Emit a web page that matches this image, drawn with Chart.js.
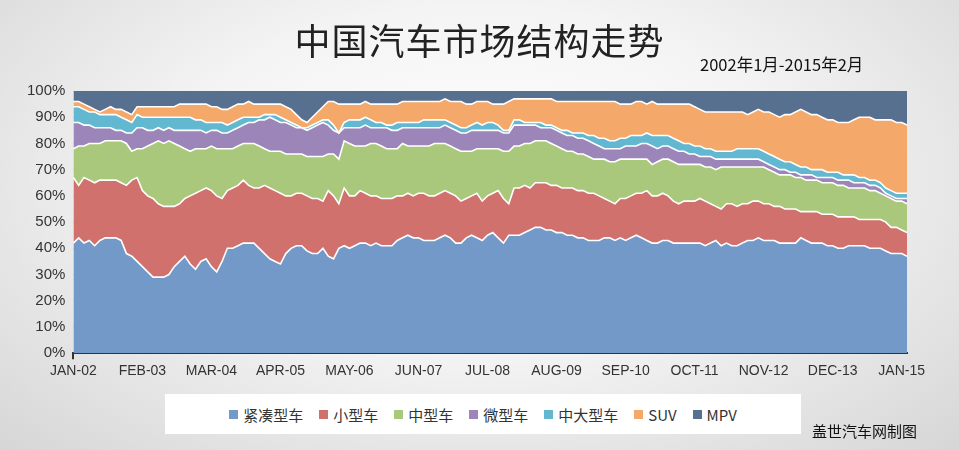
<!DOCTYPE html>
<html><head><meta charset="utf-8">
<script src="https://cdn.jsdelivr.net/npm/chart.js@4.4.1/dist/chart.umd.min.js"></script>
<style>
html,body{margin:0;padding:0;}
body{width:959px;height:450px;overflow:hidden;position:relative;font-family:"Noto Sans CJK SC","Noto Sans",sans-serif;
background:radial-gradient(ellipse at 50% 40%,#ffffff 0%,#f4f4f4 45%,#d6d6d6 100%);}
#wrap{position:absolute;left:0;top:0;width:959px;height:450px;}
#title{position:absolute;left:0;width:959px;top:14px;text-align:center;font-size:36px;line-height:50px;color:#222;letter-spacing:1px;}
#sub{position:absolute;left:700px;top:52px;font-size:16.5px;color:#111;}
#legend{position:absolute;left:165px;top:394px;width:636px;height:40px;background:#fff;display:flex;align-items:center;justify-content:center;gap:16px;font-size:15px;color:#333;}
#legend span.i{display:inline-flex;align-items:center;gap:5px;}
#legend b{display:inline-block;width:9px;height:9px;}
#credit{position:absolute;left:812px;top:420px;font-size:15px;color:#111;}
</style></head><body>
<div id="wrap"><canvas id="c" width="959" height="450"></canvas></div>
<div id="title">中国汽车市场结构走势</div>
<div id="sub">2002年1月-2015年2月</div>
<div id="legend"></div>
<div id="credit">盖世汽车网制图</div>
<script>
// Cumulative tops of each stacked band (percent), monthly Jan-2002 .. Feb-2015
const compactTop=[42,44,42,43,41,43,44,44,44,43,38,37,35,
33,31,29,29,29,30,33,35,37,34,32,35,36,
33,31,35,40,40,41,42,42,42,40,38,36,35,
34,38,40,41,41,39,38,38,40,37,36,40,41,
40,41,42,42,41,42,41,41,41,43,44,45,44,
44,43,43,43,44,45,44,42,42,44,45,44,43,
45,46,44,42,45,45,45,46,47,48,48,47,47,
46,46,45,45,44,44,43,43,43,44,44,43,44,
43,44,45,44,43,42,42,43,43,42,42,42,42,
42,42,41,42,43,41,42,41,41,42,43,43,44,
43,43,43,42,42,42,42,44,43,42,42,42,41,
41,40,40,41,41,41,41,40,40,40,39,38,38,
38,37];
const smallTop=[67,64,67,66,65,66,66,66,66,65,64,66,67,
62,60,59,57,56,56,56,57,59,60,61,62,63,
62,60,59,62,63,64,66,64,63,63,64,63,62,
61,60,60,61,61,60,59,59,58,62,60,57,63,
60,60,62,61,60,60,59,59,59,60,60,61,60,
61,61,60,60,61,62,61,60,58,59,60,61,58,
60,61,62,59,57,63,63,64,63,65,65,65,64,
64,63,63,63,62,62,61,61,60,59,58,57,59,
59,60,61,61,62,60,60,61,60,58,57,58,58,
58,59,58,57,56,55,57,57,56,57,57,58,58,
57,57,56,56,55,55,55,54,54,54,54,53,53,
53,52,52,52,52,51,51,51,51,51,50,48,48,
47,46];
const midTop=[78,79,79,80,80,80,81,81,81,81,80,77,78,
78,79,80,81,80,81,80,79,78,77,78,78,78,
79,78,78,78,78,79,80,80,80,79,78,77,77,
77,76,76,76,76,75,75,75,75,76,76,74,81,
80,79,79,79,80,80,79,78,78,78,80,79,79,
79,79,79,80,80,80,79,78,77,77,77,78,78,
78,78,78,77,77,79,79,80,80,81,81,81,80,
79,78,77,77,76,76,75,74,74,74,73,73,74,
74,74,74,74,74,72,73,74,74,73,72,72,72,
72,72,71,71,70,71,71,71,71,71,71,71,71,
71,70,69,68,68,68,67,67,66,66,66,65,65,
65,64,64,63,63,63,63,62,62,61,60,59,58,
58,57];
const microTop=[88,88,87,87,86,86,86,86,85,85,84,84,86,
86,85,85,86,85,86,85,85,85,85,85,85,84,
85,85,84,84,85,86,87,88,88,89,89,90,89,
88,88,87,86,86,85,86,87,88,87,85,84,86,
86,86,86,87,86,86,86,86,85,85,86,86,86,
86,86,86,86,86,87,86,85,84,84,85,85,85,
85,85,85,84,84,87,87,87,87,87,86,86,86,
85,84,83,83,82,82,81,80,79,78,78,78,78,
79,79,79,80,80,79,78,79,79,78,77,77,76,
76,75,75,75,74,74,74,74,74,74,74,74,74,
73,72,71,70,70,69,69,68,68,68,67,67,67,
67,66,66,66,65,65,65,64,64,63,61,60,59,
59,59];
const largeTop=[94,94,93,92,92,91,91,91,91,90,89,88,91,
90,90,90,90,90,90,90,90,90,90,89,89,88,
88,88,88,87,88,89,90,90,90,90,91,91,91,
90,89,88,87,86,86,87,88,89,89,87,84,88,
89,89,89,90,89,88,88,87,87,88,88,88,88,
88,89,89,89,89,89,88,87,86,86,87,88,87,
88,88,87,85,85,89,89,88,88,88,88,87,87,
86,85,85,84,84,84,83,83,82,82,81,81,82,
82,83,83,83,84,83,83,83,83,82,81,80,80,
79,79,78,78,77,77,77,77,78,78,78,78,78,
77,76,75,74,73,73,72,71,71,70,70,70,69,
69,69,68,68,68,67,67,66,66,65,63,62,61,
61,61];
const suvTop=[96,96,95,94,93,92,93,94,93,93,92,91,94,
94,94,94,94,94,94,94,95,95,95,95,95,95,
94,94,93,93,94,95,95,96,95,95,95,95,95,
95,94,93,91,89,88,90,92,94,96,96,95,95,
95,95,95,96,95,95,95,95,95,95,96,96,96,
96,96,96,96,96,97,96,96,96,95,95,96,96,
96,95,95,95,96,97,97,97,97,97,97,97,97,
96,96,96,96,96,96,96,96,96,96,96,96,95,
95,95,96,96,95,96,95,95,95,95,95,95,95,
94,93,92,92,92,92,92,92,92,92,91,92,93,
92,92,91,90,91,91,92,93,92,91,91,90,89,
89,88,88,88,89,90,90,90,89,89,89,89,88,
88,87];
const mpvTop=compactTop.map(()=>100); // stack total
const seriesNames=['紧凑型车','小型车','中型车','微型车','中大型车','SUV','MPV'];
const colors=['#7399c8','#d1716e','#aac87c','#9c86b9','#62b8d0','#f4a86a','#58708f'];
const monthNames=['JAN','FEB','MAR','APR','MAY','JUN','JUL','AUG','SEP','OCT','NOV','DEC'];
const labels=[];
for(let i=0;i<compactTop.length;i++){const y=2002+Math.floor(i/12);labels.push(monthNames[i%12]+'-'+String(y).slice(2));}
const tops=[compactTop,smallTop,midTop,microTop,largeTop,suvTop,mpvTop];
const datasets=tops.map((d,i)=>({label:seriesNames[i],data:d,backgroundColor:colors[i],borderColor:i===6?'rgba(0,0,0,0)':'#ffffff',
 borderWidth:i===6?0:1.6,fill:i===0?'origin':'-1',pointRadius:0,tension:0,order:7-i}));
const lg=document.getElementById('legend');
seriesNames.forEach((n,i)=>{const s=document.createElement('span');s.className='i';s.innerHTML='<b style="background:'+colors[i]+'"></b>'+n;lg.appendChild(s);});
new Chart(document.getElementById('c'),{type:'line',data:{labels,datasets},
options:{responsive:false,animation:false,events:[],
layout:{padding:{left:19,right:52,top:91,bottom:66}},
plugins:{legend:{display:false},tooltip:{enabled:false},
 filler:{drawTime:'beforeDatasetsDraw'}},
scales:{
 x:{offset:false,grid:{drawOnChartArea:false,color:(c)=>c.index%13===0?'#333':'rgba(0,0,0,0)',tickLength:6,lineWidth:2},
  border:{color:'#333',width:2},
  ticks:{autoSkip:false,maxRotation:0,color:'#333',font:{size:14,family:'Liberation Sans'},padding:4,
  callback:(v,i)=>i%13===0?labels[i]:null}},
 y:{min:0,max:100,grid:{color:'rgba(60,60,80,0.12)',drawTicks:false},border:{display:false},
  ticks:{stepSize:10,color:'#333',padding:8,font:{size:15,family:'Liberation Sans'},callback:v=>v+'%'}}
}}});
</script>
</body></html>
